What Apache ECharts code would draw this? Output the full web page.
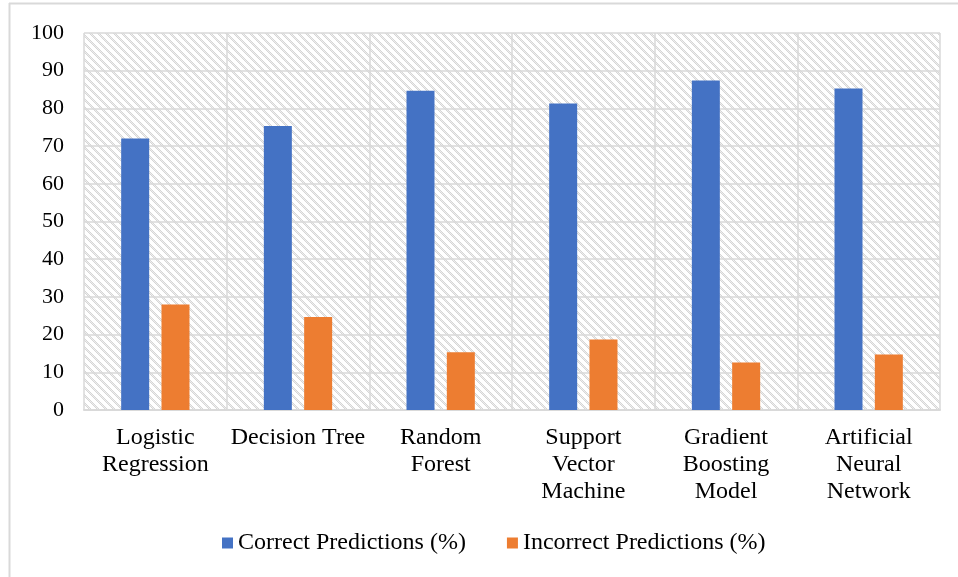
<!DOCTYPE html>
<html>
<head>
<meta charset="utf-8">
<script src="https://cdn.jsdelivr.net/npm/echarts@6/dist/echarts.min.js"></script>
<style>
  html, body { margin: 0; padding: 0; background: #fff; }
  #chart { width: 958px; height: 577px; }
</style>
</head>
<body>
<div id="chart"></div>
<script>
// Model accuracy comparison data
const categories = [
  'Logistic\nRegression',
  'Decision Tree',
  'Random\nForest',
  'Support\nVector\nMachine',
  'Gradient\nBoosting\nModel',
  'Artificial\nNeural\nNetwork'
];
const correctPct = [72.0, 75.3, 84.7, 81.3, 87.4, 85.3];
const incorrectPct = [28.0, 24.7, 15.3, 18.7, 12.6, 14.7];
const yTicks = { min: 0, max: 100, interval: 10 };

// Light diagonal hatch used as the plot background
function makeHatch() {
  const size = 8;
  const c = document.createElement('canvas');
  c.width = size; c.height = size;
  const ctx = c.getContext('2d');
  const img = ctx.createImageData(size, size);
  for (let y = 0; y < size; y++) {
    for (let x = 0; x < size; x++) {
      const d = ((x - y) % size + size) % size;
      let v = 255;
      if (d < 3) v = ((x + y) % 2 === 0) ? 214 : 238;
      const i = (y * size + x) * 4;
      img.data[i] = v; img.data[i + 1] = v; img.data[i + 2] = v; img.data[i + 3] = 255;
    }
  }
  ctx.putImageData(img, 0, 0);
  return c;
}

const serif = '"Liberation Serif", "Times New Roman", serif';
const gridColor = '#d9d9d9';

const chart = echarts.init(document.getElementById('chart'), null, { renderer: 'canvas' });
chart.setOption({
  animation: false,
  backgroundColor: '#ffffff',
  textStyle: { fontFamily: serif },
  graphic: [
    { type: 'line', shape: { x1: 9.5, y1: 3, x2: 9.5, y2: 577 }, style: { stroke: gridColor, lineWidth: 2 } },
    { type: 'line', shape: { x1: 9, y1: 3.5, x2: 958, y2: 3.5 }, style: { stroke: gridColor, lineWidth: 2 } }
  ],
  grid: {
    left: 84, right: 18, top: 33, bottom: 167,
    show: true,
    borderWidth: 0,
    backgroundColor: { image: makeHatch(), repeat: 'repeat' }
  },
  legend: {
    top: 526,
    left: 217,
    itemWidth: 11,
    itemHeight: 11,
    itemGap: 41,
    icon: 'rect',
    textStyle: { fontFamily: serif, fontSize: 24, color: '#000' },
    data: ['Correct Predictions (%)', 'Incorrect Predictions (%)']
  },
  xAxis: {
    type: 'category',
    data: categories,
    axisLine: { show: true, lineStyle: { color: gridColor, width: 2 } },
    axisTick: { show: false },
    splitLine: { show: true, interval: 0, lineStyle: { color: gridColor, width: 1.5 } },
    axisLabel: {
      interval: 0,
      margin: 14,
      fontFamily: serif,
      fontSize: 24,
      lineHeight: 27,
      color: '#000'
    }
  },
  yAxis: {
    type: 'value',
    min: yTicks.min,
    max: yTicks.max,
    interval: yTicks.interval,
    axisLine: { show: false },
    axisTick: { show: false },
    splitLine: { show: true, lineStyle: { color: gridColor, width: 1.5 } },
    axisLabel: { margin: 20, fontFamily: serif, fontSize: 22, color: '#000' }
  },
  series: [
    {
      name: 'Correct Predictions (%)',
      type: 'bar',
      data: correctPct,
      barWidth: 28,
      barGap: '44%',
      itemStyle: { color: '#4472C4' }
    },
    {
      name: 'Incorrect Predictions (%)',
      type: 'bar',
      data: incorrectPct,
      barWidth: 28,
      itemStyle: { color: '#ED7D31' }
    }
  ]
});
</script>
</body>
</html>
